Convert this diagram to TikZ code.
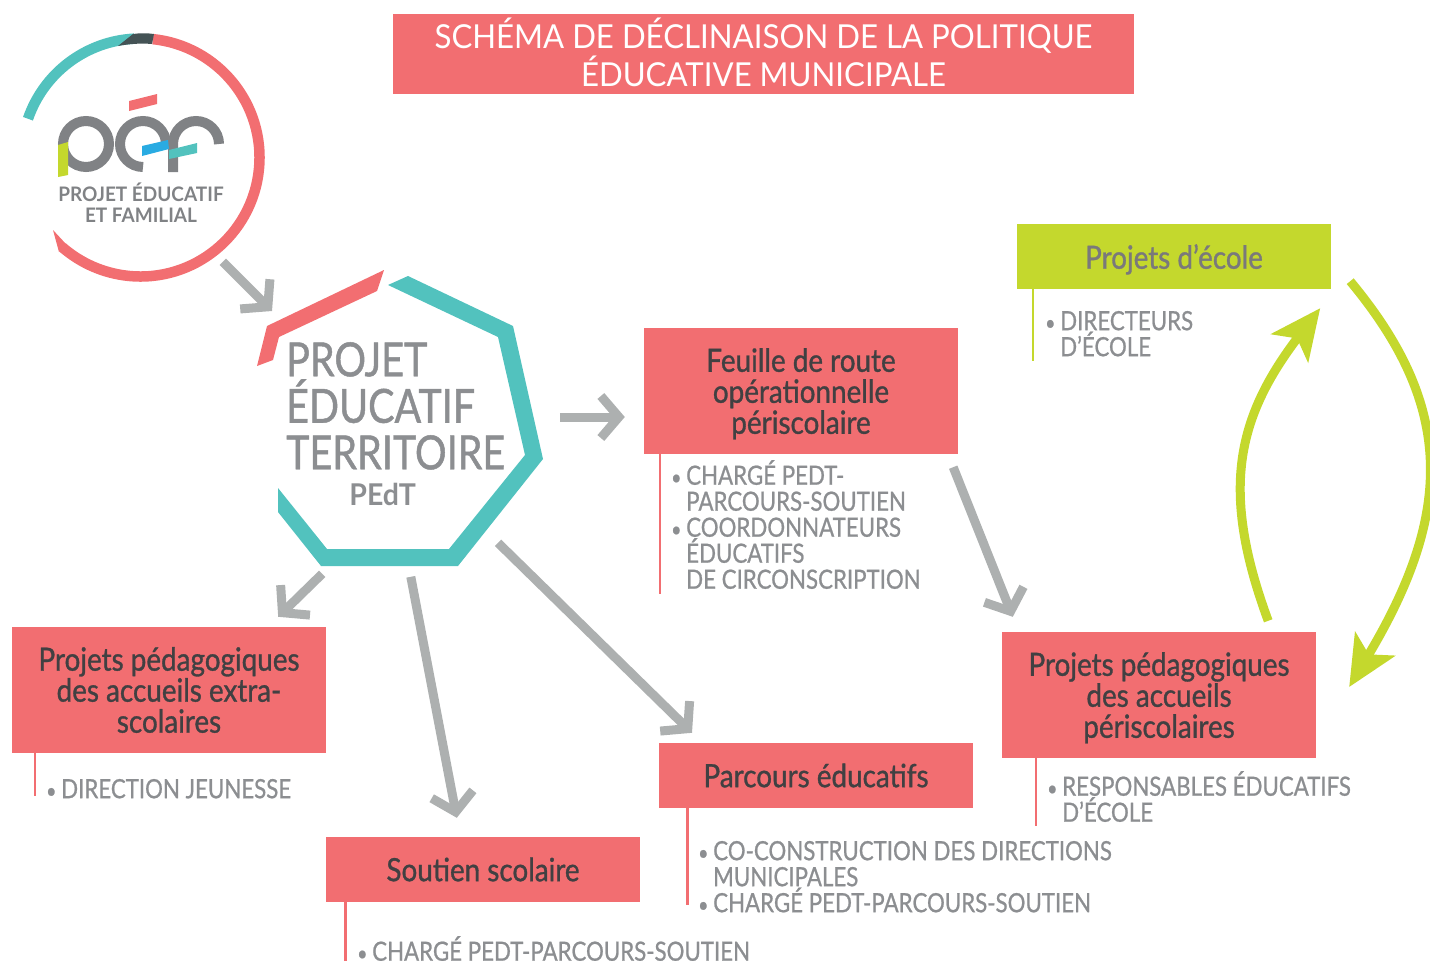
\documentclass[tikz,border=0pt]{standalone}
\usepackage{fontspec}
\setmainfont{Lato}
\newfontfamily\grasfont[FakeStretch=0.87,FakeBold=1.0]{Lato}
\newfontfamily\listefont[FakeStretch=0.84,FakeBold=0.8]{Lato}
\newfontfamily\titrefont[FakeStretch=0.945]{Lato}
\newfontfamily\pedtfont[FakeStretch=0.84,FakeBold=1.0]{Lato}
\newfontfamily\logofont[FakeStretch=0.95]{Lato}
\usetikzlibrary{positioning,arrows.meta,calc}
\definecolor{rouge}{HTML}{F26E71}
\definecolor{turquoise}{HTML}{52C2BE}
\definecolor{vert}{HTML}{C4D82D}
\definecolor{bleu}{HTML}{29ABE2}
\definecolor{grisfleche}{HTML}{ADB0B0}
\definecolor{gristexte}{HTML}{8C8E91}
\definecolor{grislogo}{HTML}{808285}
\definecolor{sombre}{HTML}{414042}
\newcommand{\puce}{\makebox[15pt][l]{\rule{0pt}{20pt}{\fontsize{21}{21}\selectfont\textbullet}}}
\newcommand{\suite}{\hspace*{15pt}\rule{0pt}{20pt}}
\newcommand{\sansp}[1]{\raisebox{0pt}[\height][0pt]{#1}}
\begin{document}
\begin{tikzpicture}[
      x=1pt,
      y=-1pt,
      boite/.style={
        fill=rouge,
        minimum width=314pt,
        minimum height=65pt,
        inner sep=0pt,
        align=center,
        text=sombre,
        font=\grasfont\fontsize{32}{31}\selectfont
      },
      liste/.style={
        anchor=north west,
        inner sep=0pt,
        align=left,
        text=gristexte,
        font=\listefont\fontsize{26.5}{26}\selectfont
      },
      filet/.style={
        rouge,
        line width=2.5pt
      },
      fleche/.style={
        grisfleche,
        line width=9pt,
        -{Straight Barb[length=18pt,width=42pt,line width=9pt]}
      },
      boucle/.style={
        vert,
        line width=9pt,
        -{Stealth[length=50pt,width=46pt,inset=12pt]}
      },
      anneau/.style={
        line width=10.5pt
      },
      lettre/.style={
        grislogo,
        line width=10pt
      }
    ]
    \useasboundingbox (0,0) rectangle (1430,961);

    % titre
    \node[fill=rouge, minimum width=741pt, minimum height=80pt, inner sep=0pt, align=center,
      text=white, font=\titrefont\fontsize{33}{38}\selectfont] (titre) at (763.5,54)
      {SCHÉMA DE DÉCLINAISON DE LA POLITIQUE\\\sansp{ÉDUCATIVE MUNICIPALE}\rule[-4pt]{0pt}{4pt}} ;

    % logo
    \node[circle, minimum size=238pt, inner sep=0pt] (logo) at (140.5,157.5) {} ;
    \draw[anneau, turquoise] ([shift={(161:119pt)}]logo.center) arc[start angle=161, end angle=93, radius=119pt] ;
    \draw[anneau, rouge] ([shift={(84:119pt)}]logo.center) arc[start angle=84, end angle=-131, radius=119pt] ;
    \fill[rouge] (53,230) -- (59,252) -- (66,244) -- cycle ;
    \fill[sombre!85!turquoise] (118,46) -- (133,34) .. controls (140,33) and (147,33) .. (154,34) -- (152,44)
      .. controls (140,43) and (128,44) .. (118,46) -- cycle ;
    \draw[lettre] (86,144) circle[radius=23pt] ;
    \draw[lettre] ([shift={(-90:23pt)}]143,144) arc[start angle=-90, end angle=-360, radius=23pt] ;
    \draw[lettre] (173,172) -- (173,144) arc[start angle=180, end angle=0, radius=23pt] ;
    \fill[vert] (58,145) -- (68,142) -- (68,175) -- (58,177) -- cycle ;
    \fill[rouge] (129,101) -- (157,94) -- (157,104) -- (129,111) -- cycle ;
    \fill[bleu] (142,146) -- (168,140) -- (169,149) -- (142,156) -- cycle ;
    \fill[turquoise] (169,150) -- (197,143) -- (197,153) -- (169,159) -- cycle ;
    \node[text=grislogo, align=center, inner sep=0pt, font=\logofont\bfseries\fontsize{20}{21}\selectfont] (nomlogo) at (141,203)
      {PROJET ÉDUCATIF\\ET FAMILIAL} ;

    % heptagone
    \fill[turquoise] (408,276) -- (513,326) -- (543,459) -- (458,566) -- (321,566) -- (278,512) -- (278,488)
      -- (327,549) -- (449,549) -- (525,455) -- (498,337) -- (388,285) -- cycle ;
    \fill[rouge] (384,270) -- (267,326) -- (257,366) -- (273,360) -- (279,337) -- (377,291) -- cycle ;
    \node[anchor=north west, inner sep=0pt, align=left, text=gristexte,
      font=\pedtfont\fontsize{47}{46.5}\selectfont] (pedt) at (286,342)
      {\rule{0pt}{34pt}PROJET\\ÉDUCATIF\\TERRITOIRE} ;
    \node[text=gristexte, inner sep=0pt, font=\logofont\bfseries\fontsize{30}{30}\selectfont, below=13pt of pedt, xshift=-13pt] (sigle) {PEdT} ;

    % boites
    \node[boite, minimum height=126pt] (feuille) at (801,391) {Feuille de route\\opérationnelle\\\sansp{périscolaire}} ;
    \node[boite, minimum height=126pt] (extra) at (169,690) {Projets pédagogiques\\des accueils extra-\\scolaires} ;
    \node[boite] (soutien) at (483,869.5) {Soutien scolaire} ;
    \node[boite] (parcours) at (816,775.5) {Parcours éducatifs} ;
    \node[boite, minimum height=126pt] (peri) at (1159,695) {Projets pédagogiques\\des accueils\\\sansp{périscolaires}} ;
    \node[boite, fill=vert, text=sombre!70] (ecole) at (1174,256.5) {\sansp{Projets d’école}} ;

    % listes
    \node[liste] (lfeuille) at (671,460) {\puce CHARGÉ PEDT-\\\suite PARCOURS-SOUTIEN\\\puce COORDONNATEURS\\\suite ÉDUCATIFS\\\suite DE CIRCONSCRIPTION} ;
    \node[liste] (lextra) at (46,778) {\puce DIRECTION JEUNESSE} ;
    \node[liste] (lsoutien) at (357,936) {\puce CHARGÉ PEDT-PARCOURS-SOUTIEN} ;
    \node[liste] (lparcours) at (698,840) {\puce CO-CONSTRUCTION DES DIRECTIONS\\\suite MUNICIPALES\\\puce CHARGÉ PEDT-PARCOURS-SOUTIEN} ;
    \node[liste] (lperi) at (1047,771) {\puce RESPONSABLES ÉDUCATIFS\\\suite D’ÉCOLE} ;
    \node[liste] (lecole) at (1045,310) {\puce DIRECTEURS\\\suite D’ÉCOLE} ;

    % filets
    \coordinate (ffeuille) at (660,594) ;
    \coordinate (fextra) at (35,796) ;
    \coordinate (fsoutien) at (345.5,961) ;
    \coordinate (fparcours) at (687.5,905) ;
    \coordinate (fperi) at (1036,826) ;
    \coordinate (fecole) at (1033,361) ;
    \draw[filet] (ffeuille |- feuille.south) -- (ffeuille) ;
    \draw[filet] (fextra |- extra.south) -- (fextra) ;
    \draw[filet] (fsoutien |- soutien.south) -- (fsoutien) ;
    \draw[filet] (fparcours |- parcours.south) -- (fparcours) ;
    \draw[filet] (fperi |- peri.south) -- (fperi) ;
    \draw[filet, vert] (fecole |- ecole.south) -- (fecole) ;

    % fleches
    \draw[fleche] ([shift={(-2,20)}]logo.-45) -- ([shift={(-14,-31)}]pedt.north west) ;
    \draw[fleche] ([shift={(-84,26)}]feuille.west) -- ([shift={(-19,26)}]feuille.west) ;
    \draw[fleche] ([shift={(-4,-53)}]extra.north east) -- ([shift={(-48,-10)}]extra.north east) ;
    \draw[fleche] ([shift={(85,-260)}]soutien.north west) -- ([shift={(131,-19)}]soutien.north west) ;
    \draw[fleche] ([shift={(-318,-200)}]parcours.north) -- ([shift={(-124,-10)}]parcours.north) ;
    \draw[fleche] ([shift={(-5,13)}]feuille.south east) -- ([shift={(11,-15)}]peri.north west) ;

    % boucle
    \draw[boucle] ([shift={(-48,-11)}]peri.north east) .. controls +(-48,-130) and +(-84,110) .. ([shift={(-11,19)}]ecole.south east) ;
    \draw[boucle] ([shift={(19,-8)}]ecole.south east) .. controls +(104,125) and +(105,-175) .. ([shift={(33,-8)}]peri.east) ;
  \end{tikzpicture}
\end{document}
